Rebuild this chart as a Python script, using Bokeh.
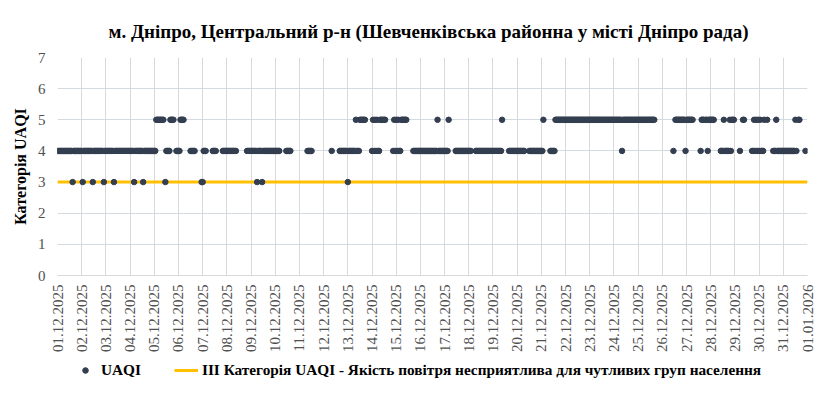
import math
from bokeh.plotting import figure
from bokeh.models import Range1d, FixedTicker, Legend, LegendItem, ColumnDataSource
from bokeh.layouts import column
from bokeh.embed import file_html
from bokeh.resources import INLINE

TITLE = "м. Дніпро, Центральний р-н (Шевченківська районна у місті Дніпро рада)"
Y_LABEL = "Категорія UAQI"
SERIES_NAME = "UAQI"
THRESHOLD_NAME = "ІІІ Категорія UAQI - Якість повітря несприятлива для чутливих груп населення"

DATE_LABELS = [
    "01.12.2025", "02.12.2025", "03.12.2025", "04.12.2025", "05.12.2025", "06.12.2025",
    "07.12.2025", "08.12.2025", "09.12.2025", "10.12.2025", "11.12.2025", "12.12.2025",
    "13.12.2025", "14.12.2025", "15.12.2025", "16.12.2025", "17.12.2025", "18.12.2025",
    "19.12.2025", "20.12.2025", "21.12.2025", "22.12.2025", "23.12.2025", "24.12.2025",
    "25.12.2025", "26.12.2025", "27.12.2025", "28.12.2025", "29.12.2025", "30.12.2025",
    "31.12.2025", "01.01.2026",
]

# hourly UAQI category for each day (24 chars per day, "-" = no data)
UAQI_BY_DAY = [
    "444444444444444344444444",
    "434444444443444444444434",
    "444444443444444444444444",
    "444434444444434444444444",
    "4455555555-344445555--44",
    "445555------44444------3",
    "3444------4444------4444",
    "4444444444----------4444",
    "444444344443444444444444",
    "44444------44444--------",
    "--------44444-----------",
    "--------4-------44444444",
    "344444445444555555------",
    "45454544555555-------454",
    "54544555555------4444444",
    "444444444444444445444444",
    "44445------4444444444444",
    "444----44444444444444444",
    "4444444445------44444444",
    "44444444----444444444444",
    "445------444445555555555",
    "555555555555555555555555",
    "555555555555555555555555",
    "555555554555555555555555",
    "55555555555555555-------",
    "-----------4-55555555554",
    "5555555-------4555-55455",
    "5555------44454444454555",
    "-----4--55-------4454545",
    "454445--5-----4445444444",
    "44444444444454-55-----4-",
]

THRESHOLD = 3
Y_TICKS = [0, 1, 2, 3, 4, 5, 6, 7]

xs, ys = [], []
for d, day in enumerate(UAQI_BY_DAY):
    for h, c in enumerate(day):
        if c != "-":
            xs.append(d + h / 24.0)
            ys.append(int(c))

n_hours = len(UAQI_BY_DAY) * 24
thr_x = [h / 24.0 for h in range(n_hours + 1)]
thr_y = [THRESHOLD] * len(thr_x)

FONT = "Liberation Serif, Times New Roman, serif"
GRID = "#D9D9D9"
HGRID = "#D3DAE2"
TEXT_GRAY = "#505050"
DOT = "#333F50"
GOLD = "#FFC000"

p = figure(width=816, height=362, output_backend="svg", toolbar_location=None,
           x_range=Range1d(0, len(DATE_LABELS) - 1), y_range=Range1d(Y_TICKS[0], Y_TICKS[-1]),
           min_border_left=57, min_border_right=9, min_border_top=57, min_border_bottom=87)

p.title.text = TITLE
p.title.text_font = FONT
p.title.text_font_size = "19px"
p.title.text_font_style = "bold"
p.title.text_color = "#000000"
p.title.align = "left"
p.title.offset = 51
p.title.standoff = 31

p.outline_line_color = None
p.background_fill_color = "white"
p.border_fill_color = "white"

thr = p.line(thr_x, thr_y, line_color=GOLD, line_width=3)
sc = p.scatter(xs, ys, size=5.5, fill_color=DOT, line_color=DOT)

p.xaxis.ticker = FixedTicker(ticks=list(range(len(DATE_LABELS))))
p.xaxis.major_label_overrides = {i: lab for i, lab in enumerate(DATE_LABELS)}
p.xaxis.major_label_orientation = math.pi / 2
p.xaxis.major_label_text_font = FONT
p.xaxis.major_label_text_font_size = "15px"
p.xaxis.major_label_text_color = TEXT_GRAY
p.xaxis.major_label_standoff = 9
p.xaxis.axis_line_color = GRID
p.xaxis.major_tick_line_color = None
p.xaxis.minor_tick_line_color = None
p.xaxis.major_tick_out = 0
p.xaxis.major_tick_in = 0

p.yaxis.ticker = FixedTicker(ticks=Y_TICKS)
p.yaxis.major_label_text_font = FONT
p.yaxis.major_label_text_font_size = "15px"
p.yaxis.major_label_text_color = TEXT_GRAY
p.yaxis.major_label_standoff = 12
p.yaxis.axis_line_color = None
p.yaxis.major_tick_line_color = None
p.yaxis.minor_tick_line_color = None
p.yaxis.major_tick_out = 0
p.yaxis.major_tick_in = 0
p.yaxis.axis_label = Y_LABEL
p.yaxis.axis_label_text_font = FONT
p.yaxis.axis_label_text_font_size = "16px"
p.yaxis.axis_label_text_font_style = "bold"
p.yaxis.axis_label_text_color = "#000000"
p.yaxis.axis_label_standoff = 6

p.xgrid.ticker = FixedTicker(ticks=list(range(len(DATE_LABELS))))
p.xgrid.grid_line_color = GRID
p.ygrid.ticker = FixedTicker(ticks=Y_TICKS)
p.ygrid.grid_line_color = HGRID

# legend strip below the chart; proxy renderers hold a single NaN so nothing is drawn in the strip
lg = figure(width=816, height=17, output_backend="svg", toolbar_location=None,
            x_range=Range1d(0, 1), y_range=Range1d(0, 1), x_axis_type=None, y_axis_type=None,
            min_border_left=0, min_border_right=0, min_border_top=0, min_border_bottom=0)
lg.outline_line_color = None
lg.xgrid.visible = False
lg.ygrid.visible = False
proxy = ColumnDataSource(data=dict(x=[float("nan")], y=[float("nan")]))
l_sc = lg.scatter("x", "y", source=proxy, size=5.5, fill_color=DOT, line_color=DOT)
l_thr = lg.line("x", "y", source=proxy, line_color=GOLD, line_width=3)

legend = Legend(items=[LegendItem(label=SERIES_NAME, renderers=[l_sc]),
                       LegendItem(label=THRESHOLD_NAME, renderers=[l_thr])],
                location=(16, 0), orientation="horizontal",
                label_text_font=FONT, label_text_font_size="15.3px", label_text_font_style="bold",
                label_text_color="#000000", glyph_width=24, glyph_height=14,
                label_standoff=4, spacing=33, padding=0, margin=0,
                border_line_color=None, background_fill_alpha=0)
lg.add_layout(legend, "center")

layout = column(p, lg, spacing=0)
open("out.html", "w").write(file_html(layout, INLINE))
